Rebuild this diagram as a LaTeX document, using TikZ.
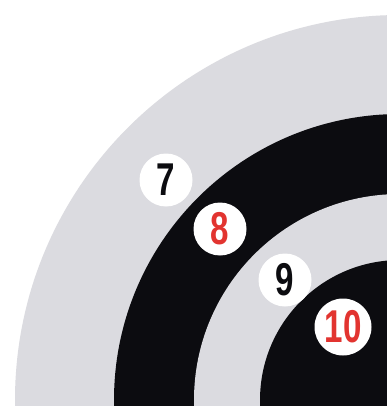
\documentclass[tikz,border=0pt]{standalone}
\usepackage{fontspec}
\setmainfont{Liberation Sans}
\definecolor{tgrey}{RGB}{219,219,224}
\definecolor{tblack}{RGB}{12,12,16}
\definecolor{tred}{RGB}{226,52,48}
\tikzset{
  numdisc/.style={circle, fill=white, inner sep=0pt, minimum size=53pt},
  ring/.style={fill=#1}
}
\newcommand{\numtxt}[1]{\scalebox{0.72}[1]{\fontsize{46}{46}\selectfont\bfseries #1}}
\begin{document}
\begin{tikzpicture}[x=1pt,y=-1pt]
\useasboundingbox (0,0) rectangle (387,406);
\fill[white] (0,0) rectangle (387,406);
\coordinate (ctr) at (400,400);
\begin{scope}
\clip (0,0) rectangle (387,406);
\fill[ring=tgrey] (ctr) circle[radius=385pt];
\fill[ring=tblack] (ctr) circle[radius=286pt];
\fill[ring=tgrey] (ctr) circle[radius=206pt];
\fill[ring=tblack] (ctr) circle[radius=140pt];
\end{scope}
\node[numdisc, text=tblack] (n7) at (166,180) {\numtxt{7}};
\node[numdisc, text=tred] (n8) at (220,229) {\numtxt{8}};
\node[numdisc, text=tblack] (n9) at (285,280) {\numtxt{9}};
\node[numdisc, minimum size=57pt, text=tred] (n10) at (343,327) {\numtxt{10}};
\end{tikzpicture}
\end{document}
